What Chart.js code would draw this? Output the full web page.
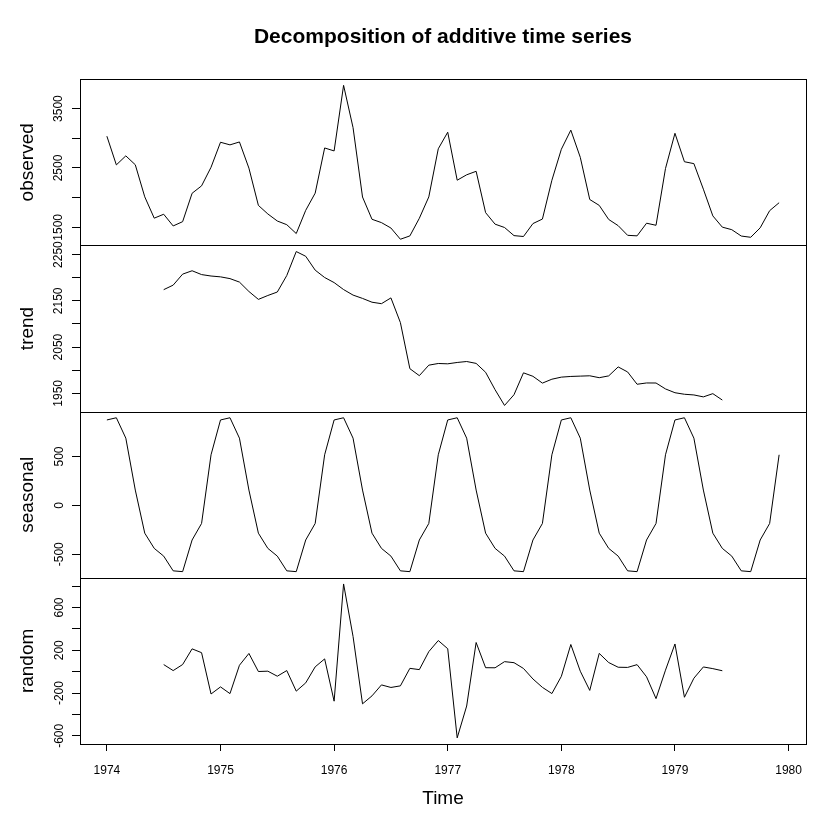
<!DOCTYPE html>
<html>
<head>
<meta charset="utf-8">
<script src="https://cdn.jsdelivr.net/npm/chart.js@4/dist/chart.umd.min.js"></script>
<style>
  body { margin: 0; background: #fff; }
  #wrap { width: 840px; height: 840px; }
</style>
</head>
<body>
<div id="wrap"><canvas id="decompChart" width="840" height="840"></canvas></div>
<script>
// monthly series, Jan 1974 - Dec 1979
var observed = [
  3035, 2552, 2704, 2554, 2014, 1655, 1721, 1524, 1596, 2074, 2199, 2512,
  2933, 2889, 2938, 2497, 1870, 1726, 1607, 1545, 1396, 1787, 2076, 2837,
  2787, 3891, 3179, 2011, 1636, 1580, 1489, 1300, 1356, 1653, 2013, 2823,
  3102, 2294, 2385, 2444, 1748, 1554, 1498, 1361, 1346, 1564, 1640, 2293,
  2815, 3137, 2679, 1969, 1870, 1633, 1529, 1366, 1357, 1570, 1535, 2491,
  3084, 2605, 2573, 2143, 1693, 1504, 1461, 1354, 1333, 1492, 1781, 1915
]
// Jul 1974 - Jun 1979
var trend = [
  2174.1, 2183.9, 2207.7, 2215.0, 2206.7, 2203.6,
  2201.8, 2198.0, 2190.5, 2170.2, 2153.1, 2161.5, 2169.0, 2204.7, 2256.5, 2246.3, 2216.3, 2200.4,
  2189.4, 2174.3, 2162.4, 2155.2, 2147.0, 2143.8, 2156.3, 2102.9, 2003.3, 1988.2, 2010.9, 2014.5,
  2013.8, 2016.7, 2018.8, 2014.7, 1995.5, 1957.8, 1923.8, 1947.0, 1994.3, 1986.8, 1972.1, 1980.5,
  1985.0, 1986.5, 1987.2, 1987.9, 1983.8, 1987.7, 2007.1, 1996.2, 1969.6, 1972.4, 1972.3, 1959.5,
  1951.3, 1948.0, 1946.5, 1942.3, 1949.3, 1935.5
]
var seasonal = [
  873.8, 896.4, 687.6, 156.6, -284.5, -440.0, -519.4, -669.9, -678.2, -354.3, -185.2, 517.4,
  873.8, 896.4, 687.6, 156.6, -284.5, -440.0, -519.4, -669.9, -678.2, -354.3, -185.2, 517.4,
  873.8, 896.4, 687.6, 156.6, -284.5, -440.0, -519.4, -669.9, -678.2, -354.3, -185.2, 517.4,
  873.8, 896.4, 687.6, 156.6, -284.5, -440.0, -519.4, -669.9, -678.2, -354.3, -185.2, 517.4,
  873.8, 896.4, 687.6, 156.6, -284.5, -440.0, -519.4, -669.9, -678.2, -354.3, -185.2, 517.4,
  873.8, 896.4, 687.6, 156.6, -284.5, -440.0, -519.4, -669.9, -678.2, -354.3, -185.2, 517.4
]
// Jul 1974 - Jun 1979
var random = [
  66.3, 10.0, 66.5, 213.3, 177.5, -209.0,
  -142.6, -205.4, 59.9, 170.2, 1.4, 4.5, -42.6, 10.2, -182.3, -105.0, 44.9, 119.2,
  -276.2, 820.3, 329.0, -300.8, -226.5, -123.8, -147.9, -133.0, 30.9, 19.1, 187.3, 291.1,
  214.4, -619.1, -321.4, 272.7, 37.0, 36.2, 93.6, 83.9, 29.9, -68.5, -146.9, -204.9,
  -43.8, 254.1, 4.2, -175.5, 170.7, 85.3, 41.3, 39.7, 65.6, -48.1, -252.1, 14.1,
  258.9, -239.4, -61.1, 44.1, 28.2, 8.5
]

var seriesStart = 1974
var movingStart = 1974.5

// tick values and the labels shown for them
var yearTicks = [1974, 1975, 1976, 1977, 1978, 1979, 1980]
var observedTicks = [1500, 2000, 2500, 3000, 3500]
var observedTickLabels = ['1500', '', '2500', '', '3500']
var trendTicks = [1950, 2000, 2050, 2100, 2150, 2200, 2250]
var trendTickLabels = ['1950', '', '2050', '', '2150', '', '2250']
var seasonalTicks = [-500, 0, 500]
var seasonalTickLabels = ['-500', '0', '500']
var randomTicks = [-600, -400, -200, 0, 200, 400, 600, 800]
var randomTickLabels = ['-600', '', '-200', '', '200', '', '600', '']

var fontFamily = '"Liberation Sans", Arial, sans-serif'
var axisFont = { family: fontFamily, size: 12 }
var titleFont = { family: fontFamily, size: 19 }

// R style axis range: data range plus 4% each side
var padRange = function (lo, hi) {
    var d = (hi - lo) * 0.04
    return [lo - d, hi + d]
}
var valRange = function (arr) {
    return padRange(Math.min.apply(null, arr), Math.max.apply(null, arr))
}

var toPoints = function (arr, start) {
    return arr.map(function (v, i) { return { x: start + i / 12, y: v } })
}

var panelScale = function (name, ticks, labels, range) {
    return {
        type: 'linear',
        position: 'left',
        stack: 'panels',
        stackWeight: 1,
        min: range[0],
        max: range[1],
        afterBuildTicks: function (s) {
            s.ticks = ticks.map(function (v) { return { value: v } })
        },
        afterFit: function (s) { s.width = 80 },
        ticks: {
            autoSkip: false,
            minRotation: 90,
            maxRotation: 90,
            crossAlign: 'center',
            padding: 0,
            color: '#000',
            font: axisFont,
            callback: function (v, i) { return labels[i] }
        },
        grid: { drawOnChartArea: false, tickLength: 8, color: '#000' },
        border: { display: false },
        title: { display: true, text: name, color: '#000', font: titleFont, padding: { top: 16, bottom: 0 } }
    }
}

// frame around every panel
var panelBoxes = {
    id: 'panelBoxes',
    afterDraw: function (chart) {
        var ctx = chart.ctx
        var area = chart.chartArea
        var left = Math.round(area.left) + 0.5
        var right = Math.round(area.right) + 0.5
        ctx.save()
        ctx.strokeStyle = '#000'
        ctx.lineWidth = 1
        ;['yObs', 'yTrend', 'ySeas', 'yRand'].forEach(function (id) {
            var s = chart.scales[id]
            var top = Math.round(s.top) + 0.5
            var bottom = Math.round(s.bottom) + 0.5
            ctx.strokeRect(left, top, right - left, bottom - top)
        })
        ctx.restore()
    }
}

var lineSet = function (arr, start, axis) {
    return {
        data: toPoints(arr, start),
        yAxisID: axis,
        borderColor: '#000',
        borderWidth: 1,
        pointRadius: 0,
        tension: 0,
        fill: false
    }
}

var xRange = padRange(seriesStart, seriesStart + (observed.length - 1) / 12)

new Chart(document.getElementById('decompChart'), {
    type: 'line',
    data: {
        datasets: [
            lineSet(observed, seriesStart, 'yObs'),
            lineSet(trend, movingStart, 'yTrend'),
            lineSet(seasonal, seriesStart, 'ySeas'),
            lineSet(random, movingStart, 'yRand')
        ]
    },
    options: {
        responsive: false,
        animation: false,
        layout: { padding: { left: 0, right: 34, top: 0, bottom: 0 } },
        plugins: {
            legend: { display: false },
            tooltip: { enabled: false },
            title: {
                display: true,
                fullSize: false,
                text: 'Decomposition of additive time series',
                color: '#000',
                font: { family: fontFamily, size: 21, weight: 'bold' },
                padding: { top: 25, bottom: 29 }
            }
        },
        scales: {
            x: {
                type: 'linear',
                position: 'bottom',
                min: xRange[0],
                max: xRange[1],
                afterBuildTicks: function (s) {
                    s.ticks = yearTicks.map(function (v) { return { value: v } })
                },
                afterFit: function (s) { s.height = 96 },
                ticks: {
                    autoSkip: false,
                    maxRotation: 0,
                    padding: 12,
                    color: '#000',
                    font: axisFont,
                    callback: function (v) { return String(v) }
                },
                grid: { drawOnChartArea: false, tickLength: 7, color: '#000' },
                border: { display: false },
                title: { display: true, text: 'Time', color: '#000', font: titleFont, padding: { top: 0, bottom: 30 } }
            },
            yRand: panelScale('random', randomTicks, randomTickLabels, valRange(random)),
            ySeas: panelScale('seasonal', seasonalTicks, seasonalTickLabels, valRange(seasonal)),
            yTrend: panelScale('trend', trendTicks, trendTickLabels, valRange(trend)),
            yObs: panelScale('observed', observedTicks, observedTickLabels, valRange(observed))
        }
    },
    plugins: [panelBoxes]
})
</script>
</body>
</html>
